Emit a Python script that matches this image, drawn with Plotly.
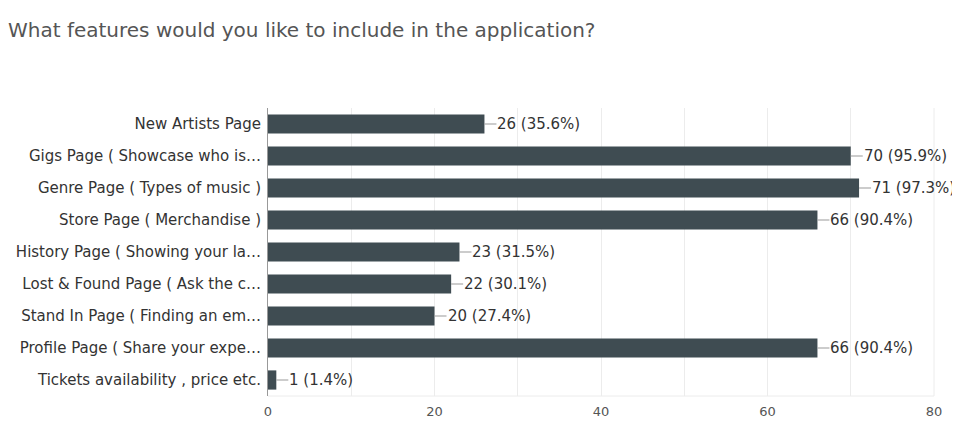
import plotly.graph_objects as go

categories = [
    "New Artists Page",
    "Gigs Page ( Showcase who is…",
    "Genre Page ( Types of music )",
    "Store Page ( Merchandise )",
    "History Page ( Showing your la…",
    "Lost & Found Page ( Ask the c…",
    "Stand In Page ( Finding an em…",
    "Profile Page ( Share your expe…",
    "Tickets availability , price etc.",
]
counts = [26, 70, 71, 66, 23, 22, 20, 66, 1]
percents = [35.6, 95.9, 97.3, 90.4, 31.5, 30.1, 27.4, 90.4, 1.4]
x_ticks = [0, 20, 40, 60, 80]

bar_color = "#3f4c52"
FONT = "DejaVu Sans, Verdana, sans-serif"

fig = go.Figure()
fig.add_trace(go.Bar(
    x=counts,
    y=categories,
    orientation="h",
    marker=dict(color=bar_color, line=dict(width=0)),
    hoverinfo="skip",
))

annotations = []
for c, p, cat in zip(counts, percents, categories):
    annotations.append(dict(
        x=c, y=cat, xref="x", yref="y",
        text=f"{c} ({p}%)",
        showarrow=True, arrowhead=0, arrowwidth=1, arrowcolor="#999999",
        ax=12, ay=0, xanchor="left", standoff=0, startstandoff=0,
        font=dict(family=FONT, size=15, color="#333333"),
        borderpad=0,
    ))

fig.update_layout(
    width=952, height=413,
    margin=dict(l=260, r=26, t=100, b=25),
    paper_bgcolor="white", plot_bgcolor="white",
    title=dict(
        text="What features would you like to include in the application?",
        x=0.0, xanchor="left", y=0.947, yanchor="middle",
        font=dict(family=FONT, size=20, color="#555555"),
    ),
    bargap=0.4,
    showlegend=False,
    annotations=annotations,
    font=dict(family=FONT, size=13, color="#333333"),
)
fig.update_xaxes(
    range=[0, 80], tickvals=x_ticks,
    showgrid=True, gridcolor="#ececec", gridwidth=1,
    zeroline=False, automargin=False,
    ticks="outside", ticklen=3, tickcolor="rgba(0,0,0,0)",
    tickfont=dict(family=FONT, size=13, color="#555555"),
    showline=False,
    minor=dict(dtick=10, showgrid=True, gridcolor="#ececec"),
)
fig.update_yaxes(
    categoryorder="array", categoryarray=categories, autorange="reversed",
    showline=True, linecolor="#999999", linewidth=1,
    ticks="", ticklabelstandoff=3, automargin=False,
    tickfont=dict(family=FONT, size=15, color="#333333"),
    showgrid=False,
)
fig.add_shape(type="line", xref="paper", yref="paper", x0=1, x1=1, y0=0, y1=1,
              line=dict(color="#ececec", width=1))
fig.add_shape(type="line", xref="paper", yref="paper", x0=0, x1=1, y0=0, y1=0,
              line=dict(color="#ececec", width=1))

fig.write_html("out.html")
